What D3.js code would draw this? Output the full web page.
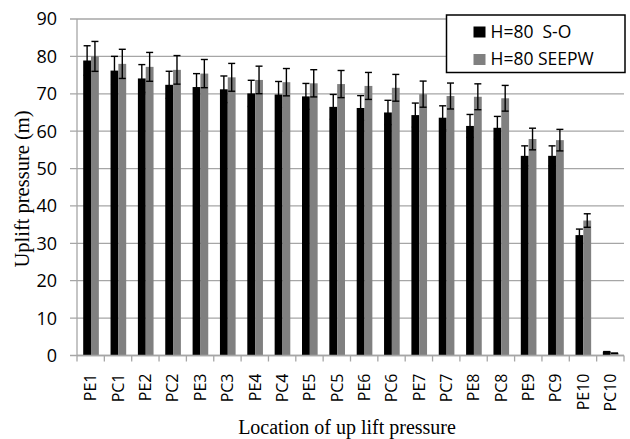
<!DOCTYPE html>
<html lang="en">
<head>
<meta charset="UTF-8">
<title>Uplift pressure</title>
<script src="https://d3js.org/d3.v7.min.js"></script>
<style>
  body { margin: 0; background: #fff; }
</style>
</head>
<body>
<script>
// chart data
var locations = ["PE1", "PC1", "PE2", "PC2", "PE3", "PC3", "PE4", "PC4", "PE5", "PC5",
                 "PE6", "PC6", "PE7", "PC7", "PE8", "PC8", "PE9", "PC9", "PE10", "PC10"];
var seriesNames = ["H=80  S-O", "H=80 SEEPW"];
var soValues = [78.9, 76.2, 74.1, 72.4, 71.8, 71.2, 70.1, 69.8, 69.3, 66.5,
                66.2, 65.0, 64.3, 63.6, 61.4, 60.9, 53.4, 53.4, 32.2, 1.0];
var seepwValues = [80.0, 78.0, 77.2, 76.4, 75.4, 74.4, 73.7, 73.1, 72.8, 72.6,
                   72.1, 71.6, 69.9, 69.4, 69.2, 68.8, 57.9, 57.6, 36.1, 0.6];
var yTicks = [0, 10, 20, 30, 40, 50, 60, 70, 80, 90];
var errorPercent = 5; // percentage error bars

var width = 630, height = 439;
var margin = { top: 19, right: 6, bottom: 83.5, left: 77 };
var plotW = width - margin.left - margin.right;
var plotH = height - margin.top - margin.bottom;

var svg = d3.select("body").append("svg")
    .attr("width", width)
    .attr("height", height);

var g = svg.append("g")
    .attr("transform", "translate(" + margin.left + "," + margin.top + ")");

var x = d3.scaleBand().domain(locations).range([0, plotW]);
var x1 = d3.scaleBand().domain([0, 1]).range([6.2, x.bandwidth() - 5.5]);
var y = d3.scaleLinear().domain([0, 90]).range([plotH, 0]);

// gridlines
g.selectAll(".grid").data(yTicks).enter().append("line")
    .attr("x1", -7).attr("x2", plotW)
    .attr("y1", function (d) { return y(d); })
    .attr("y2", function (d) { return y(d); })
    .attr("stroke", "#a6a6a6").attr("stroke-width", 1.3);

// y labels
g.selectAll(".ylab").data(yTicks).enter().append("text")
    .attr("x", -20).attr("y", function (d) { return y(d); })
    .attr("dy", "0.36em")
    .attr("text-anchor", "end")
    .attr("font-family", "Open Sans, sans-serif")
    .attr("font-size", "18px")
    .attr("fill", "#000")
    .text(function (d) { return d; });

// y axis line
g.append("line").attr("x1", 0).attr("x2", 0).attr("y1", 0).attr("y2", plotH)
    .attr("stroke", "#a6a6a6").attr("stroke-width", 1.3);

// x tick marks
var xt = d3.range(locations.length + 1);
g.selectAll(".xtick").data(xt).enter().append("line")
    .attr("x1", function (d) { return d * x.step(); })
    .attr("x2", function (d) { return d * x.step(); })
    .attr("y1", plotH).attr("y2", plotH + 6)
    .attr("stroke", "#a6a6a6").attr("stroke-width", 1.3);

var series = [soValues, seepwValues];
var colors = ["#000000", "#808080"];

var groups = g.selectAll(".loc").data(locations).enter().append("g")
    .attr("transform", function (d) { return "translate(" + x(d) + ",0)"; });

groups.selectAll("rect").data(function (d, i) { return [0, 1].map(function (s) { return { s: s, v: series[s][i] }; }); })
    .enter().append("rect")
    .attr("x", function (d) { return x1(d.s); })
    .attr("width", x1.bandwidth())
    .attr("y", function (d) { return y(d.v); })
    .attr("height", function (d) { return plotH - y(d.v); })
    .attr("fill", function (d) { return colors[d.s]; });

// error bars
var eb = groups.selectAll(".err").data(function (d, i) { return [0, 1].map(function (s) { return { s: s, v: series[s][i] }; }); })
    .enter().append("g")
    .attr("stroke", "#000").attr("stroke-width", 1.4);
function cx(d) { return x1(d.s) + x1.bandwidth() / 2; }
function hi(d) { return y(d.v * (1 + errorPercent / 100)); }
function lo(d) { return y(d.v * (1 - errorPercent / 100)); }
eb.append("line").attr("x1", cx).attr("x2", cx).attr("y1", hi).attr("y2", lo);
eb.append("line").attr("x1", function (d) { return cx(d) - 3.5; }).attr("x2", function (d) { return cx(d) + 3.5; }).attr("y1", hi).attr("y2", hi);
eb.append("line").attr("x1", function (d) { return cx(d) - 3.5; }).attr("x2", function (d) { return cx(d) + 3.5; }).attr("y1", lo).attr("y2", lo);

// bottom axis line
g.append("line").attr("x1", 0).attr("x2", plotW).attr("y1", plotH).attr("y2", plotH)
    .attr("stroke", "#a6a6a6").attr("stroke-width", 1.3);

// x labels rotated
g.selectAll(".xlab").data(locations).enter().append("text")
    .attr("transform", function (d) {
        return "translate(" + (x(d) + x.bandwidth() / 2) + "," + (plotH + 18) + ") rotate(-90)";
    })
    .attr("dy", "0.36em")
    .attr("text-anchor", "end")
    .attr("font-family", "Open Sans, sans-serif")
    .attr("font-size", "16px")
    .attr("fill", "#000")
    .text(function (d) { return d; });

// axis titles
svg.append("text")
    .attr("x", 347).attr("y", 434)
    .attr("text-anchor", "middle")
    .attr("font-family", "Liberation Serif, serif")
    .attr("font-size", "20px")
    .text("Location of up lift pressure");

svg.append("text")
    .attr("transform", "translate(29,189) rotate(-90)")
    .attr("text-anchor", "middle")
    .attr("font-family", "Liberation Serif, serif")
    .attr("font-size", "20.5px")
    .text("Uplift pressure (m)");

// legend
var leg = svg.append("g").attr("transform", "translate(446.5,15)");
leg.append("rect").attr("width", 178.5).attr("height", 57.5)
    .attr("fill", "#fff").attr("stroke", "#000").attr("stroke-width", 1.5);
var items = leg.selectAll(".item").data(seriesNames).enter().append("g")
    .attr("transform", function (d, i) { return "translate(27," + (11.5 + i * 27.5) + ")"; });
items.append("rect").attr("width", 12).attr("height", 11)
    .attr("fill", function (d, i) { return colors[i]; });
items.append("text").attr("x", 17).attr("y", 11)
    .attr("font-family", "Open Sans, sans-serif")
    .attr("font-size", "17.5px")
    .style("white-space", "pre")
    .attr("xml:space", "preserve")
    .text(function (d) { return d; });
</script>
</body>
</html>
